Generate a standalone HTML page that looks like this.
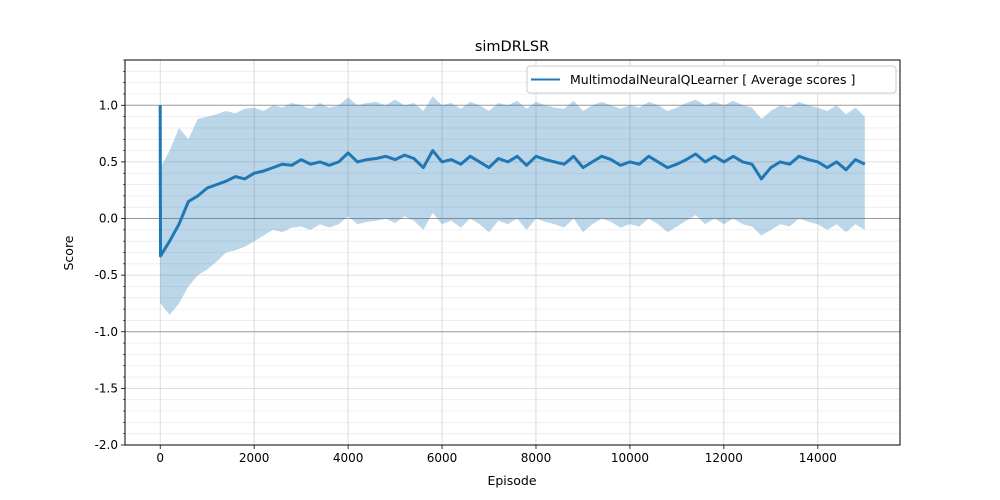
<!DOCTYPE html>
<html><head><meta charset="utf-8"><style>
html,body{margin:0;padding:0;background:#fff;}
svg{display:block;font-family:"DejaVu Sans","Liberation Sans",sans-serif;}
</style></head><body>
<svg id="chart" width="1000" height="500" viewBox="0 0 1000 500"></svg>
<script>
const episodes = [0,5,200,400,600,800,1000,1200,1400,1600,1800,2000,2200,2400,2600,2800,3000,3200,3400,3600,3800,4000,4200,4400,4600,4800,5000,5200,5400,5600,5800,6000,6200,6400,6600,6800,7000,7200,7400,7600,7800,8000,8200,8400,8600,8800,9000,9200,9400,9600,9800,10000,10200,10400,10600,10800,11000,11200,11400,11600,11800,12000,12200,12400,12600,12800,13000,13200,13400,13600,13800,14000,14200,14400,14600,14800,15000];
const meanScores = [1.0,-0.33,-0.2,-0.05,0.15,0.2,0.27,0.3,0.33,0.37,0.35,0.4,0.42,0.45,0.48,0.47,0.52,0.48,0.5,0.47,0.5,0.58,0.5,0.52,0.53,0.55,0.52,0.56,0.53,0.45,0.6,0.5,0.52,0.48,0.55,0.5,0.45,0.53,0.5,0.55,0.47,0.55,0.52,0.5,0.48,0.55,0.45,0.5,0.55,0.52,0.47,0.5,0.48,0.55,0.5,0.45,0.48,0.52,0.57,0.5,0.55,0.5,0.55,0.5,0.48,0.35,0.45,0.5,0.48,0.55,0.52,0.5,0.45,0.5,0.43,0.52,0.48];
const upperBand = [0.45,0.45,0.6,0.8,0.7,0.88,0.9,0.92,0.95,0.93,0.97,0.98,0.95,1.0,0.98,1.02,1.0,0.97,1.02,0.98,1.0,1.07,1.0,1.02,1.03,1.0,1.05,1.0,1.02,0.95,1.08,1.0,1.02,0.97,1.03,1.0,0.95,1.02,1.0,1.04,0.97,1.03,1.0,0.98,0.97,1.04,0.95,1.0,1.03,1.0,0.97,1.0,0.98,1.03,1.0,0.95,0.98,1.02,1.05,1.0,1.03,1.0,1.04,1.0,0.98,0.88,0.95,1.0,0.98,1.03,1.0,0.98,0.95,1.0,0.92,0.98,0.9];
const lowerBand = [-0.75,-0.75,-0.85,-0.75,-0.6,-0.5,-0.45,-0.38,-0.3,-0.28,-0.25,-0.2,-0.15,-0.1,-0.12,-0.08,-0.07,-0.1,-0.05,-0.08,-0.05,0.02,-0.05,-0.03,-0.02,0.0,-0.04,0.02,-0.02,-0.1,0.05,-0.05,-0.02,-0.08,0.0,-0.05,-0.12,-0.02,-0.05,0.0,-0.1,0.0,-0.03,-0.05,-0.08,0.0,-0.12,-0.05,0.0,-0.03,-0.08,-0.05,-0.07,0.0,-0.05,-0.12,-0.07,-0.02,0.03,-0.05,0.0,-0.05,0.0,-0.05,-0.07,-0.15,-0.1,-0.05,-0.07,0.0,-0.03,-0.05,-0.1,-0.05,-0.12,-0.05,-0.1];
const xTicks = [0,2000,4000,6000,8000,10000,12000,14000];
const yTicks = [-2.0,-1.5,-1.0,-0.5,0.0,0.5,1.0];

const L=125,R=900,T=60,B=445, X0=-750,X1=15750, Y0=-2.0,Y1=1.4;
const sx=v=>L+(v-X0)/(X1-X0)*(R-L);
const sy=v=>B-(v-Y0)/(Y1-Y0)*(B-T);
const svg=document.getElementById('chart');
const NS='http://www.w3.org/2000/svg';
function mk(tag,attrs,parent){const e=document.createElementNS(NS,tag);for(const k in attrs)e.setAttribute(k,attrs[k]);(parent||svg).appendChild(e);return e;}

for(let i=-20;i<=14;i++){const v=i/10;if(i%5===0)continue;const y=sy(v);
 const g=mk('line',{x1:L,x2:R,y1:y,y2:y,stroke:'#ebebeb','stroke-width':0.8});
 
 
 const t=mk('line',{x1:L-2,x2:L,y1:y,y2:y,stroke:'#000','stroke-width':0.6});
 
 
}
xTicks.forEach(v=>{const x=sx(v);
 const g=mk('line',{x1:x,x2:x,y1:T,y2:B,stroke:'#d3d3d3','stroke-width':0.8});
 
 
});
yTicks.forEach(v=>{const y=sy(v);const major=Number.isInteger(v);
 const g=mk('line',{x1:L,x2:R,y1:y,y2:y,stroke:major?'#999':'#d3d3d3','stroke-width':major?1:0.8});
 
 
});
let d='';
episodes.forEach((e,i)=>{d+=(i?'L':'M')+sx(e).toFixed(1)+','+sy(upperBand[i]).toFixed(1);});
for(let i=episodes.length-1;i>=0;i--)d+='L'+sx(episodes[i]).toFixed(1)+','+sy(lowerBand[i]).toFixed(1);
const band=mk('path',{d:d+'Z',fill:'#1f77b4','fill-opacity':0.3,stroke:'none'});


let ld='';
episodes.forEach((e,i)=>{ld+=(i?'L':'M')+sx(e).toFixed(1)+','+sy(meanScores[i]).toFixed(1);});
const line=mk('path',{d:ld,fill:'none',stroke:'#1f77b4','stroke-width':3,'stroke-linejoin':'round'});


const fr=mk('rect',{x:L,y:T,width:R-L,height:B-T,fill:'none',stroke:'#000','stroke-width':1});


xTicks.forEach(v=>{const x=sx(v);
 const t=mk('line',{x1:x,x2:x,y1:B,y2:B+4,stroke:'#000','stroke-width':0.8});
 
 
 const l=mk('text',{x:x,y:B+17,'text-anchor':'middle','font-size':12,fill:'#000'});l.textContent=v;
 
 
});
yTicks.forEach(v=>{const y=sy(v);
 const t=mk('line',{x1:L-4,x2:L,y1:y,y2:y,stroke:'#000','stroke-width':0.8});
 
 
 const l=mk('text',{x:L-7,y:y+4,'text-anchor':'end','font-size':12,fill:'#000'});l.textContent=v.toFixed(1);
 
 
});
</script>
<svg style="position:absolute;left:0;top:0" width="1000" height="500">
 <text x="512" y="51" text-anchor="middle" font-size="14.5">simDRLSR</text>
 <text x="512" y="485" text-anchor="middle" font-size="12.5">Episode</text>
 <text x="73" y="253" text-anchor="middle" font-size="12.5" transform="rotate(-90 73 253)">Score</text>
 <g>
  <rect x="527" y="66" width="369" height="27" rx="3" fill="#fff" fill-opacity="0.85" stroke="#ccc"/>
  <line x1="531" x2="560" y1="79.5" y2="79.5" stroke="#1f77b4" stroke-width="2"/>
  <text x="570" y="84" font-size="12.5">MultimodalNeuralQLearner [ Average scores ]</text>
 </g>
</svg>
</body></html>
